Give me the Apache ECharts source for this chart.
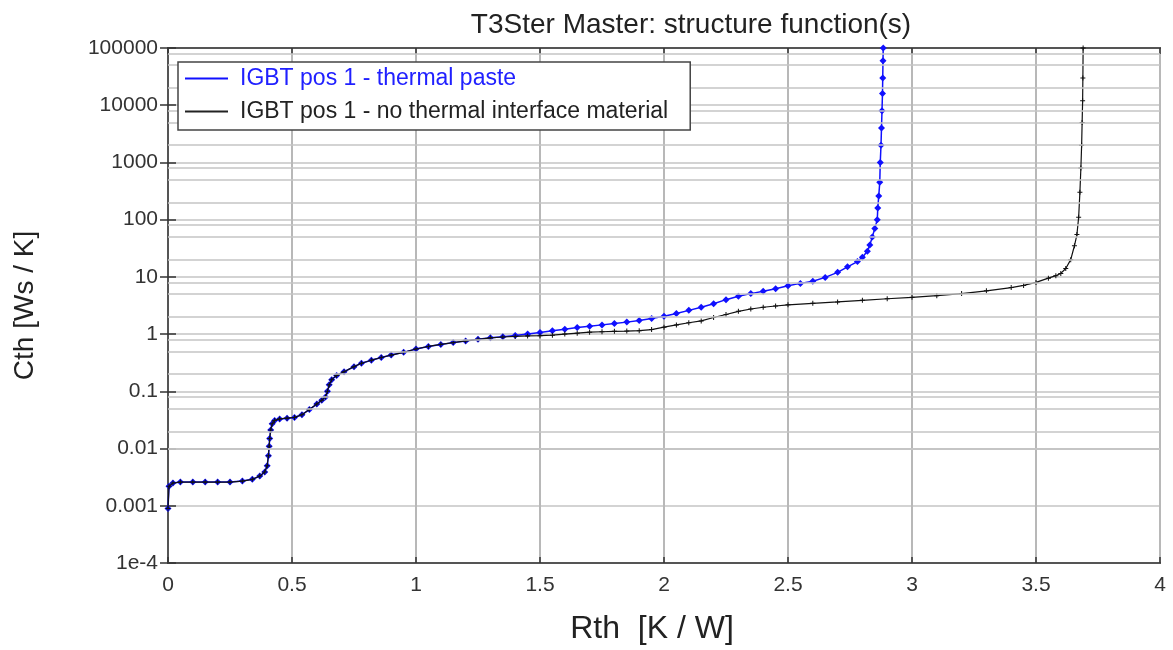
<!DOCTYPE html>
<html>
<head>
<meta charset="utf-8">
<title>T3Ster Master: structure function(s)</title>
<script src="https://cdn.jsdelivr.net/npm/echarts@6/dist/echarts.min.js"></script>
<style>
  html, body { margin: 0; padding: 0; background: #fff; }
  #chart { width: 1173px; height: 650px; }
</style>
</head>
<body>
<div id="chart"></div>
<script>
// Structure function: cumulative thermal capacitance vs. cumulative thermal resistance
const seriesNames = ['IGBT pos 1 - thermal paste', 'IGBT pos 1 - no thermal interface material'];

const rthPaste = [0, 0.004, 0.02, 0.05, 0.1, 0.15, 0.2, 0.25, 0.3, 0.34, 0.37, 0.39, 0.4, 0.405, 0.408, 0.41, 0.414, 0.42, 0.43, 0.45, 0.48, 0.51, 0.54, 0.57, 0.6, 0.62, 0.635, 0.643, 0.65, 0.66, 0.68, 0.71, 0.75, 0.78, 0.82, 0.86, 0.9, 0.95, 1.0, 1.05, 1.1, 1.15, 1.2, 1.25, 1.3, 1.35, 1.4, 1.45, 1.5, 1.55, 1.6, 1.65, 1.7, 1.75, 1.8, 1.85, 1.9, 1.95, 2.0, 2.05, 2.1, 2.15, 2.2, 2.25, 2.3, 2.35, 2.4, 2.45, 2.5, 2.55, 2.6, 2.65, 2.7, 2.74, 2.78, 2.8, 2.82, 2.83, 2.84, 2.85, 2.86, 2.862, 2.866, 2.87, 2.872, 2.875, 2.877, 2.879, 2.881, 2.882, 2.883, 2.884];
const cthPaste = [0.0009, 0.0022, 0.0025, 0.0026, 0.0026, 0.0026, 0.0026, 0.0026, 0.0027, 0.0029, 0.0033, 0.0039, 0.005, 0.0075, 0.011, 0.015, 0.021, 0.027, 0.031, 0.033, 0.034, 0.035, 0.039, 0.048, 0.06, 0.07, 0.08, 0.1, 0.13, 0.16, 0.19, 0.22, 0.27, 0.31, 0.35, 0.39, 0.43, 0.48, 0.55, 0.61, 0.66, 0.71, 0.76, 0.81, 0.86, 0.9, 0.95, 1.0, 1.07, 1.14, 1.22, 1.3, 1.37, 1.45, 1.53, 1.62, 1.73, 1.88, 2.05, 2.3, 2.6, 2.95, 3.4, 4.0, 4.6, 5.1, 5.6, 6.2, 7.0, 7.7, 8.4, 9.8, 12, 15, 18.5, 22, 28, 36, 50, 70, 100, 160, 260, 450, 1000, 2000, 4000, 8000, 16000, 30000, 60000, 100000];

const rthNoTim = [0, 0.004, 0.02, 0.05, 0.1, 0.15, 0.2, 0.25, 0.3, 0.34, 0.37, 0.39, 0.4, 0.405, 0.408, 0.41, 0.414, 0.42, 0.43, 0.45, 0.48, 0.51, 0.54, 0.57, 0.6, 0.62, 0.635, 0.643, 0.65, 0.66, 0.68, 0.71, 0.75, 0.78, 0.82, 0.86, 0.9, 0.95, 1.0, 1.05, 1.1, 1.15, 1.2, 1.25, 1.3, 1.35, 1.4, 1.45, 1.5, 1.55, 1.6, 1.65, 1.7, 1.75, 1.8, 1.85, 1.9, 1.95, 2.0, 2.05, 2.1, 2.15, 2.2, 2.25, 2.3, 2.35, 2.4, 2.45, 2.5, 2.6, 2.7, 2.8, 2.9, 3.0, 3.1, 3.2, 3.3, 3.4, 3.45, 3.5, 3.55, 3.58, 3.6, 3.62, 3.64, 3.655, 3.665, 3.672, 3.677, 3.681, 3.684, 3.686, 3.688, 3.689, 3.69];
const cthNoTim = [0.0009, 0.0022, 0.0025, 0.0026, 0.0026, 0.0026, 0.0026, 0.0026, 0.0027, 0.0029, 0.0033, 0.0039, 0.005, 0.0075, 0.011, 0.015, 0.021, 0.027, 0.031, 0.033, 0.034, 0.035, 0.039, 0.048, 0.06, 0.07, 0.08, 0.1, 0.13, 0.16, 0.19, 0.22, 0.27, 0.31, 0.35, 0.39, 0.43, 0.48, 0.55, 0.61, 0.66, 0.71, 0.76, 0.81, 0.86, 0.89, 0.91, 0.93, 0.94, 0.96, 1.0, 1.04, 1.08, 1.1, 1.12, 1.13, 1.15, 1.2, 1.32, 1.45, 1.58, 1.7, 1.95, 2.2, 2.5, 2.75, 2.95, 3.1, 3.25, 3.45, 3.65, 3.9, 4.15, 4.4, 4.7, 5.1, 5.7, 6.5, 7.1, 8.0, 9.5, 10.5, 11.5, 14, 20, 35, 55, 110, 300, 800, 2000, 5000, 12000, 30000, 100000];

// Axis ticks and the extra horizontal grid values between decades
const yTickLabels = ['1e-4', '0.001', '0.01', '0.1', '1', '10', '100', '1000', '10000', '100000'];
const yMinorGrid = [0.0002, 0.0005, 0.0008, 0.002, 0.005, 0.008, 0.02, 0.05, 0.08, 0.2, 0.5, 0.8, 2, 5, 8, 20, 50, 80, 200, 500, 800, 2000, 5000, 8000, 20000, 50000, 80000];

const zip = (xs, ys) => xs.map((x, i) => [x, ys[i]]);

const FONT = '"Liberation Sans", Arial, sans-serif';
const chart = echarts.init(document.getElementById('chart'), null, { renderer: 'canvas' });

const plusPath = 'path://M2,0H3V2H5V3H3V5H2V3H0V2H2Z';

chart.setOption({
  animation: false,
  backgroundColor: '#ffffff',
  textStyle: { fontFamily: FONT },
  title: {
    text: 'T3Ster Master: structure function(s)',
    left: 686, top: 6, textAlign: 'center',
    textStyle: { fontFamily: FONT, fontSize: 28, fontWeight: 'normal', color: '#222' }
  },
  legend: {
    orient: 'vertical',
    left: 178, top: 62,
    z: 20,
    padding: [5, 22, 7, 7],
    itemGap: 10,
    itemWidth: 43, itemHeight: 2,
    backgroundColor: '#fff',
    borderColor: '#444', borderWidth: 1.5,
    textStyle: { fontFamily: FONT, fontSize: 23, lineHeight: 22, padding: [0, 0, 0, 7] },
    data: [
      { name: seriesNames[0], icon: 'rect', itemStyle: { color: '#1010ff' }, textStyle: { color: '#2020ff', fontSize: 23, lineHeight: 22, padding: [0, 0, 0, 7] } },
      { name: seriesNames[1], icon: 'rect', itemStyle: { color: '#222' }, textStyle: { color: '#222', fontSize: 23, lineHeight: 22, padding: [0, 0, 0, 7] } }
    ]
  },
  grid: {
    left: 168, right: 13, top: 48, bottom: 87,
    show: true, borderColor: '#555', borderWidth: 2, backgroundColor: '#fff'
  },
  xAxis: [{
    type: 'value', min: 0, max: 4, interval: 0.5,
    name: 'Rth  [K / W]', nameLocation: 'middle', nameGap: 50,
    nameTextStyle: { fontFamily: FONT, fontSize: 32, color: '#222', padding: [0, 24, 0, 0] },
    axisLine: { show: true, lineStyle: { color: '#555', width: 2 } },
    axisTick: { show: true, inside: true, length: 6, lineStyle: { color: '#333', width: 1.5 } },
    axisLabel: { fontFamily: FONT, fontSize: 21, color: '#333', margin: 12 },
    splitLine: { show: true, lineStyle: { color: '#b8b8b8', width: 2 } }
  }, {
    type: 'value', min: 0, max: 4, interval: 0.5, position: 'top',
    axisLine: { show: true, lineStyle: { color: '#555', width: 2 } },
    axisTick: { show: true, inside: true, length: 6, lineStyle: { color: '#333', width: 1.5 } },
    axisLabel: { show: false },
    splitLine: { show: false }
  }],
  yAxis: [{
    type: 'log', logBase: 10, min: 0.0001, max: 100000,
    name: 'Cth [Ws / K]', nameLocation: 'middle', nameGap: 129, nameRotate: 90,
    nameTextStyle: { fontFamily: FONT, fontSize: 28, color: '#222' },
    axisLine: { show: true, lineStyle: { color: '#555', width: 2 } },
    axisTick: { show: true, inside: true, length: 8, lineStyle: { color: '#333', width: 1.5 } },
    axisLabel: {
      fontFamily: FONT, fontSize: 21, color: '#333', margin: 10,
      formatter: v => yTickLabels[Math.round(Math.log10(v)) + 4]
    },
    splitLine: { show: true, lineStyle: { color: '#c4c4c4', width: 1.5 } }
  }, {
    type: 'log', logBase: 10, min: 0.0001, max: 100000, position: 'right',
    axisLine: { show: true, lineStyle: { color: '#555', width: 2 } },
    axisTick: { show: true, inside: true, length: 8, lineStyle: { color: '#333', width: 1.5 } },
    axisLabel: { show: false },
    splitLine: { show: false }
  }],
  series: [
    {
      // extra horizontal grid between the decade lines
      type: 'line', data: [], silent: true, z: 1,
      markLine: {
        silent: true, symbol: 'none', label: { show: false },
        lineStyle: { color: '#c4c4c4', width: 1.5, type: 'solid' },
        emphasis: { disabled: true },
        data: yMinorGrid.map(v => ({ yAxis: v }))
      }
    },
    {
      name: seriesNames[0], type: 'line', z: 3,
      data: zip(rthPaste, cthPaste),
      clip: true,
      lineStyle: { color: '#1010ff', width: 1.5 },
      itemStyle: { color: '#1010ff' },
      symbol: 'diamond', symbolSize: 7, showSymbol: true, showAllSymbol: true
    },
    {
      name: seriesNames[1], type: 'line', z: 4,
      data: zip(rthNoTim, cthNoTim),
      clip: true,
      lineStyle: { color: '#111', width: 1.2 },
      itemStyle: { color: '#111' },
      symbol: plusPath, symbolSize: 5, showSymbol: true, showAllSymbol: true
    }
  ]
});
</script>
</body>
</html>
